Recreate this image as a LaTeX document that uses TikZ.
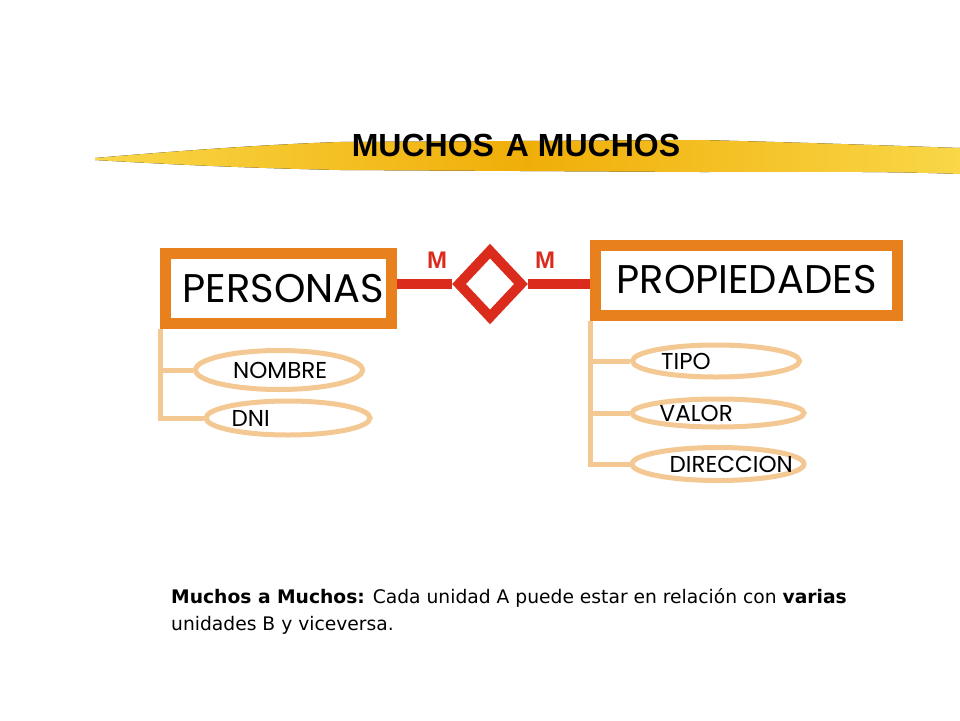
\documentclass[tikz,border=0pt]{standalone}
\usepackage{fontspec}
\setmainfont{Liberation Sans}
\newfontfamily\gothic{Poppins}
\newfontfamily\notefont{DejaVu Sans}
\usepackage{tikz}
\usetikzlibrary{shapes.geometric}
\usetikzlibrary{positioning}
\usetikzlibrary{backgrounds}
\definecolor{entorange}{HTML}{E9801E}
\definecolor{relred}{HTML}{DA2B1D}
\definecolor{attrtan}{HTML}{F4C893}
\definecolor{brushlight}{HTML}{F9D748}
\definecolor{brushgold}{HTML}{F0AE08}

\begin{document}
\begin{tikzpicture}[x=1pt,y=-1pt,
	entity/.style={draw=entorange, line width=11pt, fill=white, inner sep=0pt, minimum width=226pt, minimum height=70pt, font=\gothic\fontsize{40}{40}\selectfont},
	rel/.style={diamond, draw=relred, line width=10pt, fill=white, inner sep=0pt, minimum width=66pt, minimum height=70pt},
	attr/.style={ellipse, draw=attrtan, line width=5pt, fill=white, inner sep=0pt},
	attrtext/.style={anchor=west, inner sep=0pt, font=\gothic\fontsize{23}{23}\selectfont},
	relline/.style={draw=relred, line width=10pt},
	attrline/.style={draw=attrtan, line width=5pt},
	card/.style={text=relred, font=\bfseries\fontsize{24}{24}\selectfont}]
	\useasboundingbox (0,0) rectangle (960,720);
	% brush stroke behind the title
	\fill[left color=brushlight, right color=brushlight, middle color=brushgold] (95,158) .. controls (200,149) and (280,144) .. (340,142) -- (700,140) .. controls (820,143) and (900,146) .. (960,148) -- (960,174) .. controls (880,171) and (800,172) .. (700,172) -- (340,170) .. controls (250,168) and (180,165) .. (95,160) -- cycle;
	\node[font=\bfseries\fontsize{32}{32}\selectfont] (title) at (516,145) {MUCHOS\hspace{12pt}A MUCHOS};
	% entities and relationship
	\node[entity, text depth=0pt, align=center, text width=226pt] (personas) at (278.5,288) {\hspace*{10pt}PERSONAS};
	\node[entity, minimum width=302pt] (propiedades) at (746.5,280) {PROPIEDADES};
	\node[rel] (rel) at (490,284) {};
	\node[card] (m1) at (437,260) {M};
	\node[card] (m2) at (545,260) {M};
	% attributes
	\node[attr, minimum width=167pt, minimum height=39pt, label={[attrtext, xshift=40pt]west:NOMBRE}] (nombre) at (279,370) {};
	\node[attr, minimum width=164pt, minimum height=34pt, label={[attrtext, xshift=28pt]west:DNI}] (dni) at (288,418) {};
	\node[attr, minimum width=167pt, minimum height=32pt, label={[attrtext, xshift=31pt]west:TIPO}] (tipo) at (716,361) {};
	\node[attr, minimum width=172pt, minimum height=28pt, label={[attrtext, xshift=30pt]west:VALOR}] (valor) at (718,413) {};
	\node[attr, minimum width=172pt, minimum height=33pt, label={[attrtext, xshift=40pt]west:DIRECCION}] (direccion) at (718,464) {};
	\begin{scope}[on background layer]
		\draw[relline] (personas.east |- rel.west) -- (rel.west);
		\draw[relline] (rel.east) -- (rel.east -| propiedades.west);
		\draw[attrline] (personas.south west) |- (dni.west);
		\draw[attrline] (personas.south west |- nombre.west) -- (nombre.west);
		\draw[attrline] (propiedades.south west) |- (direccion.west);
		\draw[attrline] (propiedades.south west |- tipo.west) -- (tipo.west);
		\draw[attrline] (propiedades.south west |- valor.west) -- (valor.west);
	\end{scope}
	% note
	\node[anchor=north west, inner sep=0pt, align=left, font=\notefont\fontsize{18.7}{27}\selectfont] (note) at (171,588) {\textbf{Muchos a Muchos:} Cada unidad A puede estar en relación con \textbf{varias}\\unidades B y viceversa.};
\end{tikzpicture}
\end{document}
